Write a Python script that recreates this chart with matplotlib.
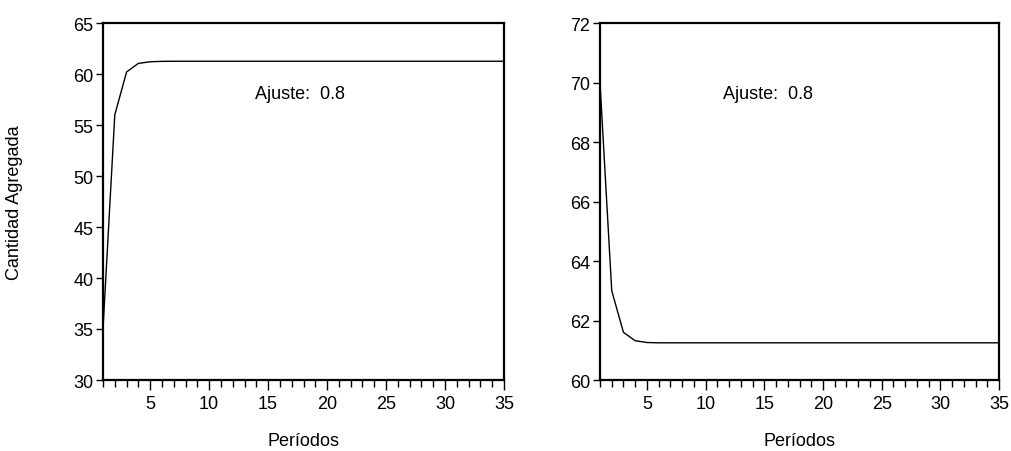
import matplotlib.pyplot as plt
from matplotlib.ticker import MultipleLocator

periodos = list(range(1, 36))
cantidad_izq = [35.0, 56.0, 60.2, 61.04, 61.2, 61.24, 61.25] + [61.25] * 28
cantidad_der = [70.0, 63.0, 61.6, 61.32, 61.26, 61.25] + [61.25] * 29
ajuste = "Ajuste:  0.8"

plt.rcParams['font.family'] = ['Liberation Sans', 'DejaVu Sans']
plt.rcParams['font.size'] = 13

fig = plt.figure(figsize=(10.11, 4.52), dpi=100)
ax1 = fig.add_axes([103 / 1011, 1 - 381 / 452, 401 / 1011, 357 / 452])
ax2 = fig.add_axes([600 / 1011, 1 - 381 / 452, 399 / 1011, 357 / 452])


def estilo(ax, ylim, paso):
    ax.set_xlim(1, 35)
    ax.set_ylim(*ylim)
    ax.xaxis.set_major_locator(MultipleLocator(5))
    ax.xaxis.set_minor_locator(MultipleLocator(1))
    ax.yaxis.set_major_locator(MultipleLocator(paso))
    ax.tick_params(axis="x", which="major", direction="out", length=7, width=1, pad=4)
    ax.tick_params(axis="x", which="minor", direction="out", length=5, width=1)
    ax.tick_params(axis="y", direction="out", length=5, width=1, pad=2)
    for s in ax.spines.values():
        s.set_linewidth(1.6)
    ax.set_xlabel("Períodos", labelpad=14)


ax1.plot(periodos, cantidad_izq, color="black", lw=1)
estilo(ax1, (30, 65), 5)
ax1.set_ylabel("Cantidad Agregada", labelpad=36)
ax1.text(300, 452 - 95, ajuste, transform=None, ha="center", va="center")

ax2.plot(periodos, cantidad_der, color="black", lw=1)
estilo(ax2, (60, 72), 2)
ax2.text(768, 452 - 95, ajuste, transform=None, ha="center", va="center")

fig.savefig("out.png", dpi=100)
